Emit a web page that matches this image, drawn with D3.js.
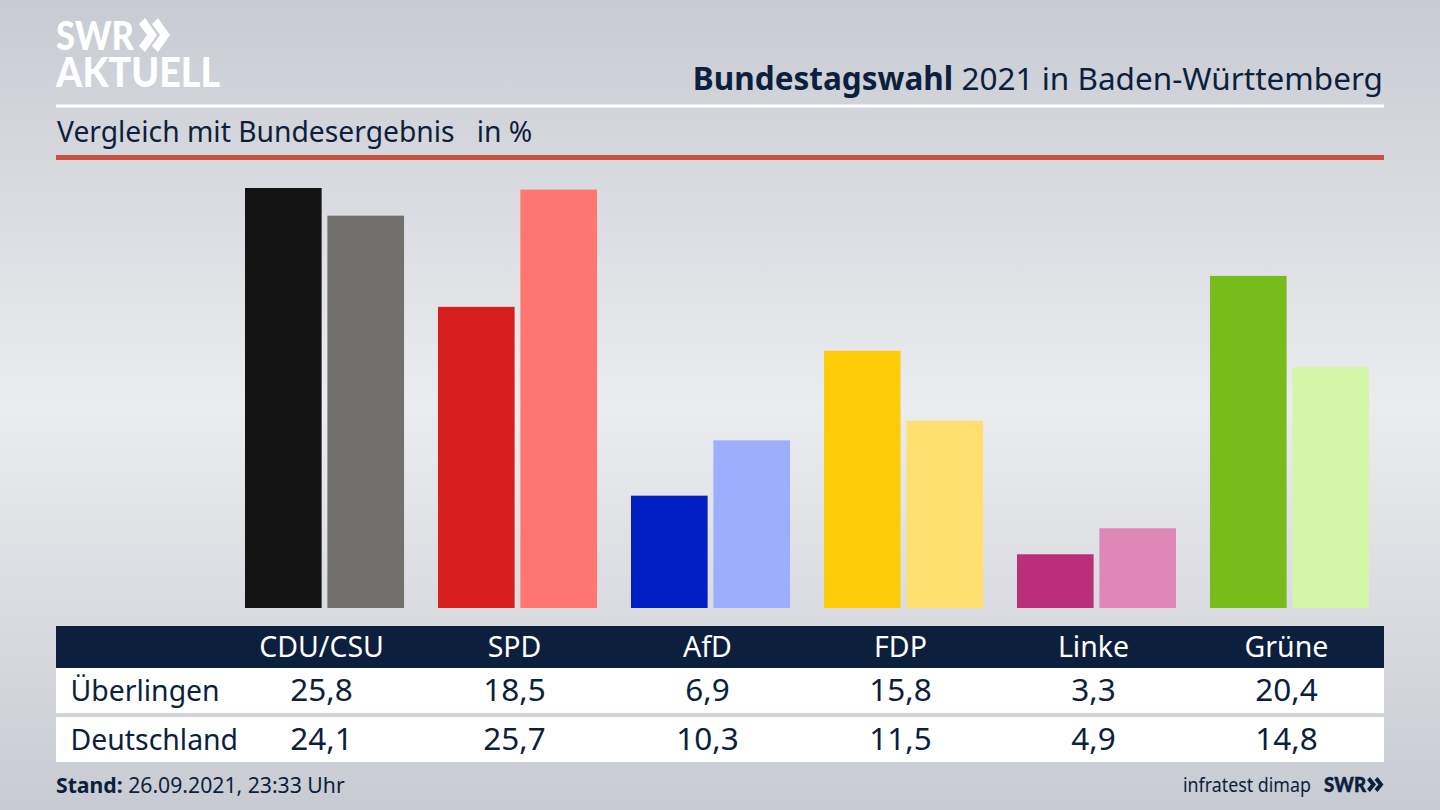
<!DOCTYPE html>
<html>
<head>
<meta charset="utf-8">
<script src="https://cdn.jsdelivr.net/npm/d3@7"></script>
<style>
html,body{margin:0;padding:0;overflow:hidden;background:#d5d7dd;}
text{font-family:"Noto Sans",sans-serif;}
</style>
</head>
<body>
<div id="chart"></div>
<script>
// values
var parties = ["CDU/CSU","SPD","AfD","FDP","Linke","Grüne"];
var seriesNames = ["Überlingen","Deutschland"];
var ueberlingen = [25.8,18.5,6.9,15.8,3.3,20.4];
var deutschland = [24.1,25.7,10.3,11.5,4.9,14.8];
var colorsLocal = ["#141414","#d81f1d","#0020c4","#ffcc0a","#bb2e78","#78bc1c"];
var colorsNational = ["#72706d","#ff7570","#9eaeff","#ffdf70","#df88b8","#d4f6a8"];

var w = 1440, h = 810;
var navy = "#0c1f3d";

var svg = d3.select("#chart").append("svg")
    .attr("width",w)
    .attr("height",h)
    .style("display","block");

var defs = svg.append("defs");
var bg = defs.append("linearGradient")
    .attr("id","bg")
    .attr("x1",0).attr("x2",0).attr("y1",0).attr("y2",1);
bg.append("stop").attr("offset","0%").attr("stop-color","#c8cbd2");
bg.append("stop").attr("offset","50%").attr("stop-color","#ebecef");
bg.append("stop").attr("offset","100%").attr("stop-color","#c8cbd2");

svg.append("rect")
    .attr("width",w)
    .attr("height",h)
    .attr("fill","url(#bg)");

// logo top left
var logo = svg.append("text")
    .attr("font-weight",900).attr("fill","#fff")
    .style("font-family","Lato");
logo.append("tspan").attr("x",56).attr("y",50)
    .attr("font-size",40)
    .attr("textLength",78).attr("lengthAdjust","spacingAndGlyphs")
    .text("SWR");
logo.append("tspan").attr("x",56).attr("y",87)
    .attr("font-size",41)
    .attr("textLength",164).attr("lengthAdjust","spacingAndGlyphs")
    .text("AKTUELL");
svg.append("path")
    .attr("d","M139 24l6-6l12 17l-12 17l-6-6l8-11zM152 24l6-6l12 17l-12 17l-6-6l8-11z")
    .attr("fill","#fff");

// title
var title = svg.append("text")
    .attr("x",1383).attr("y",90)
    .attr("text-anchor","end")
    .attr("font-size",31.5)
    .attr("fill",navy);
title.append("tspan").attr("font-weight",700).text("Bundestagswahl");
title.append("tspan").text(" 2021 in Baden-Württemberg");

svg.append("rect").attr("x",56).attr("y",104.5).attr("width",1328).attr("height",3).attr("fill","#fff");

svg.append("text")
    .attr("x",57).attr("y",142)
    .attr("font-size",28.25)
    .attr("fill",navy)
    .style("white-space","pre")
    .text("Vergleich mit Bundesergebnis   in %");

svg.append("rect").attr("x",56).attr("y",155).attr("width",1328).attr("height",5).attr("fill","#c9523f");

// bars
var x = d3.scaleBand()
    .domain(parties)
    .range([245,1369])
    .paddingInner(0.176)
    .paddingOuter(0);

var x1 = d3.scaleBand()
    .domain(seriesNames)
    .range([0,x.bandwidth()])
    .paddingInner(0.07);

var y = d3.scaleLinear()
    .domain([0,25.8])
    .range([608,188]);

var rows = [ueberlingen,deutschland];
var colorRows = [colorsLocal,colorsNational];

rows.forEach(function(values,s){
    svg.append("g").selectAll("rect")
        .data(values)
        .enter()
        .append("rect")
        .attr("x",function(d,i){ return x(parties[i]) + x1(seriesNames[s]); })
        .attr("y",function(d){ return y(d); })
        .attr("width",x1.bandwidth())
        .attr("height",function(d){ return y(0) - y(d); })
        .attr("fill",function(d,i){ return colorRows[s][i]; });
});

// table
var labelX = function(p){ return x(p) + x.bandwidth()/2 - 3; };
var rowTop = [668,717];
var rowBaseline = [701,750];

svg.append("rect").attr("x",56).attr("y",626).attr("width",1328).attr("height",42).attr("fill",navy);
rowTop.forEach(function(t){
    svg.append("rect").attr("x",56).attr("y",t).attr("width",1328).attr("height",45).attr("fill","#fff");
});

svg.append("g").selectAll("text")
    .data(parties)
    .enter()
    .append("text")
    .attr("x",labelX)
    .attr("y",657)
    .attr("text-anchor","middle")
    .attr("font-size",28.5)
    .attr("fill","#fff")
    .text(function(d){ return d; });

var fmt = function(v){ return v.toFixed(1).replace(".",","); };

rows.forEach(function(values,s){
    svg.append("text")
        .attr("x",70.5).attr("y",rowBaseline[s])
        .attr("font-size",28.4)
        .attr("fill",navy)
        .text(seriesNames[s]);
    svg.append("g").selectAll("text")
        .data(values)
        .enter()
        .append("text")
        .attr("x",function(d,i){ return labelX(parties[i]); })
        .attr("y",rowBaseline[s])
        .attr("text-anchor","middle")
        .attr("font-size",31.5)
        .attr("fill",navy)
        .text(fmt);
});

// footer
var stand = svg.append("text")
    .attr("x",56).attr("y",793)
    .attr("font-size",21.2)
    .attr("fill",navy);
stand.append("tspan").attr("font-weight",700).text("Stand:");
stand.append("tspan").text(" 26.09.2021, 23:33 Uhr");

svg.append("text")
    .attr("x",1183).attr("y",792)
    .attr("font-size",20)
    .attr("fill",navy)
    .attr("textLength",128).attr("lengthAdjust","spacingAndGlyphs")
    .text("infratest dimap");

svg.append("text")
    .attr("x",1324).attr("y",792)
    .attr("font-size",21).attr("font-weight",900)
    .style("font-family","Lato")
    .attr("fill",navy)
    .attr("stroke",navy).attr("stroke-width",0.5)
    .attr("textLength",42).attr("lengthAdjust","spacingAndGlyphs")
    .text("SWR");
svg.append("path")
    .attr("d","M1367 780l3-3l6 7.500l-6 7.500l-3-3l4-4.500zM1374.500 780l3-3l6 7.500l-6 7.500l-3-3l4-4.500z")
    .attr("fill",navy);
</script>
</body>
</html>
